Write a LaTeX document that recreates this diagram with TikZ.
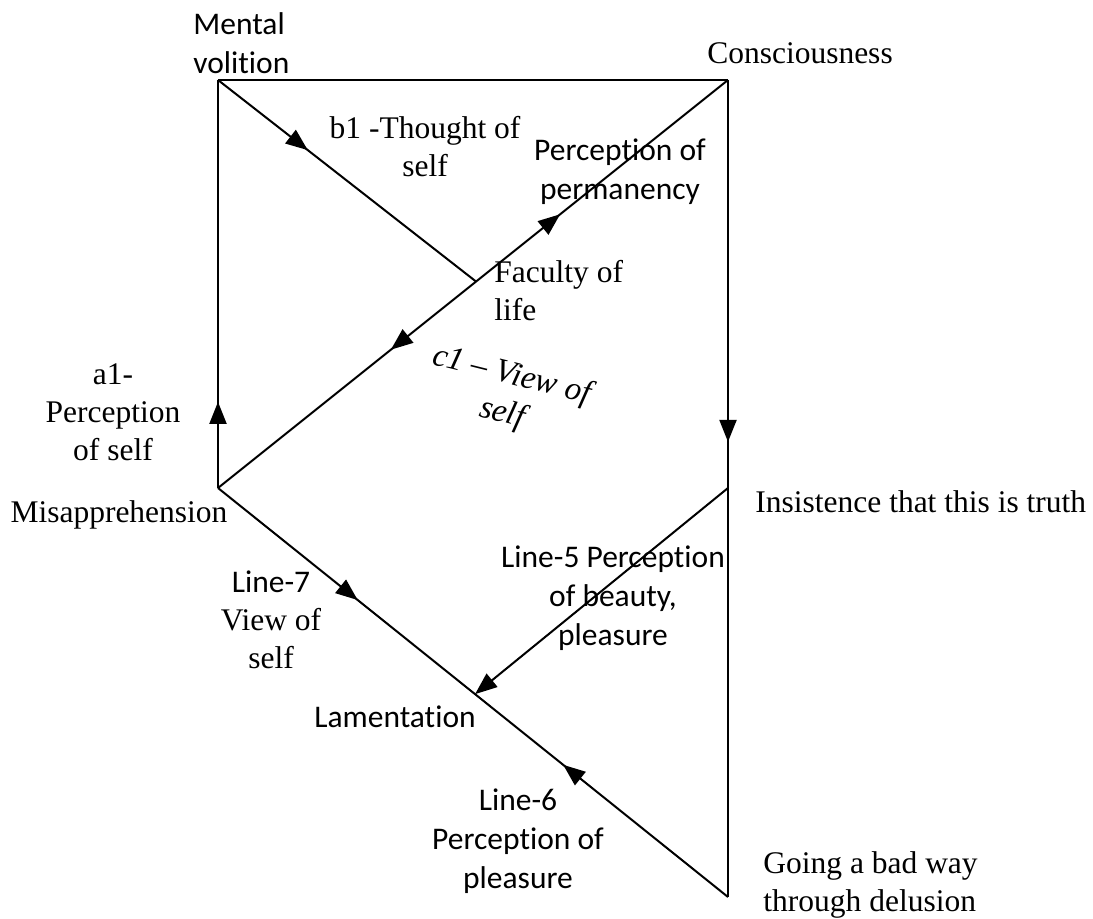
\documentclass[tikz,border=0pt]{standalone}
\usepackage{fontspec}
\setmainfont{Liberation Serif}
\newfontfamily\labelsans[Ligatures=NoCommon]{Carlito}
\usetikzlibrary{arrows.meta,decorations.markings,calc}

\tikzset{>={Triangle[length=11pt,width=8.5pt]}}

\begin{document}
\begin{tikzpicture}[x=0.5pt,y=-0.5pt,
  edge/.style={line width=1pt},
  midarrow/.style={postaction={decorate,decoration={markings,mark=at position #1 with {\arrow{>}}}}},
  midarrowback/.style={postaction={decorate,decoration={markings,mark=at position #1 with {\arrowreversed{>}}}}},
  txt/.style={inner sep=0pt,font=\fontsize{15.75}{19}\selectfont},
  sans/.style={inner sep=0pt,font=\labelsans\fontsize{15.75}{19.5}\selectfont},
  slanted/.style={inner sep=0pt,font=\fontsize{16.5}{19.5}\selectfont\itshape}
]
\useasboundingbox (0,0) rectangle (1093,919);

% corner and junction points
\coordinate (mv) at (218,80);
\coordinate (cn) at (728,80);
\coordinate (ms) at (218,488);
\coordinate (bt) at (728,897);
\coordinate (fl) at ($(ms)!0.506!(cn)$);
\coordinate (in) at (728,488);
\coordinate (lm) at ($(ms)!0.504!(bt)$);

% connectors
\draw[edge] (mv) -- (cn);
\draw[edge,midarrow=0.348] (mv) -- (fl);
\draw[edge,midarrow=0.671,midarrowback=0.339] (ms) -- (cn);
\draw[edge,midarrow=0.211] (ms) -- (mv);
\draw[edge,midarrow=0.443] (cn) -- (bt);
\draw[edge,->] (in) -- (lm);
\draw[edge,midarrow=0.274,midarrowback=0.677] (ms) -- (bt);

% labels
\node[sans,align=left,anchor=west] (mvl) at (193,43) {Mental\\volition};
\node[txt] (cnl) at (800,53) {Consciousness};
\node[txt,align=center] (b1) at (425,147) {b1 -Thought of\\self};
\node[sans,align=center] (pp) at (620,172) {Perception of\\permanency};
\node[txt,align=left,anchor=west] (fol) at (494,291) {Faculty of\\life};
\node[slanted,align=center,rotate=-14] (c1) at (507,395) {c1 -- View of\\self};
\node[txt,align=center] (a1) at (113,412) {a1-\\Perception\\of self};
\node[txt] (msl) at (119,515) {Misapprehension};
\node[txt,anchor=west] (inl) at (755,502) {Insistence that this is truth};
\node[sans,align=center] (l5) at (613,598) {Line-5 Perception\\of beauty,\\pleasure};
\node[txt,align=center] (l7) at (271,620) {{\labelsans Line-7}\\View of\\self};
\node[sans] (lml) at (395,717) {Lamentation};
\node[sans,align=center] (l6) at (518,841) {Line-6\\Perception of\\pleasure};
\node[txt,align=left,anchor=west] (gb) at (763,885) {Going a bad way\\through delusion};
\end{tikzpicture}
\end{document}
